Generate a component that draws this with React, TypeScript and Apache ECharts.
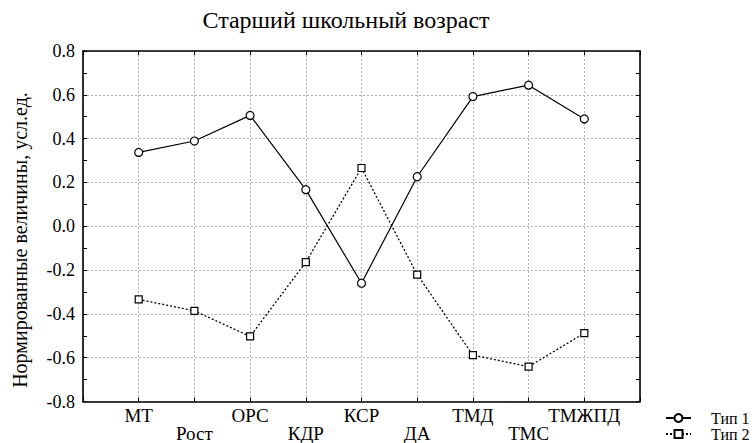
import React, { useEffect, useRef } from 'react';
import * as echarts from 'echarts';

const titleText = 'Старший школьный возраст';
const yAxisName = 'Нормированные величины, усл.ед.';
const categories = ['МТ', 'Рост', 'ОРС', 'КДР', 'КСР', 'ДА', 'ТМД', 'ТМС', 'ТМЖПД'];
const seriesNames = ['Тип 1', 'Тип 2'];
const type1 = [0.337, 0.389, 0.506, 0.167, -0.26, 0.226, 0.592, 0.644, 0.49];
const type2 = [-0.334, -0.386, -0.503, -0.164, 0.266, -0.221, -0.588, -0.641, -0.488];
const yMin = -0.8;
const yMax = 0.8;
const yStep = 0.2;

const FONT = '"Liberation Serif", "Times New Roman", serif';

export default function App() {
  const ref = useRef<HTMLDivElement>(null);
  useEffect(() => {
    if (!ref.current) return;
    const chart = echarts.init(ref.current, null, { renderer: 'svg' });
    const xLabel = (v: number) => {
      const i = Math.round(v) - 1;
      if (i < 0 || i >= categories.length) return '';
      return i % 2 === 0 ? categories[i] : '\n' + categories[i];
    };
    const axisLine = { show: true, onZero: false, lineStyle: { color: '#000', width: 1.6 } };
    const tick = { show: true, inside: true, length: 4, lineStyle: { color: '#000', width: 1 } };
    const minor = { show: true, splitNumber: 2, length: 4, lineStyle: { color: '#000', width: 1 } };
    const grid = { type: [2, 2], color: '#b0b0b0', width: 1 };
    const legendBase = {
      orient: 'vertical',
      left: 665,
      padding: 0,
      itemWidth: 25,
      itemHeight: 10,
      textStyle: {
        fontFamily: FONT,
        fontSize: 16,
        lineHeight: 16,
        color: '#000',
        padding: [0, 0, 0, 15],
      },
    };
    chart.setOption({
      animation: false,
      backgroundColor: '#fff',
      grid: { left: 83, right: 114, top: 51, bottom: 39, containLabel: false },
      graphic: [
        {
          type: 'text',
          x: 346,
          y: 20,
          style: {
            text: titleText,
            font: `24px ${FONT}`,
            fill: '#000',
            textAlign: 'center',
            textVerticalAlign: 'middle',
          },
        },
        {
          type: 'text',
          x: 20,
          y: 240,
          rotation: Math.PI / 2,
          style: {
            text: yAxisName,
            font: `20px ${FONT}`,
            fill: '#000',
            textAlign: 'center',
            textVerticalAlign: 'middle',
          },
        },
      ],
      legend: [
        { ...legendBase, data: [seriesNames[0]], top: 410 },
        { ...legendBase, data: [seriesNames[1]], top: 426 },
      ],
      xAxis: [
        {
          type: 'value',
          min: 0,
          max: 10,
          interval: 1,
          position: 'bottom',
          axisLine,
          axisTick: tick,
          splitLine: { show: true, lineStyle: grid },
          axisLabel: {
            formatter: xLabel,
            fontFamily: FONT,
            fontSize: 19,
            color: '#000',
            margin: 5,
            lineHeight: 18,
          },
        },
        {
          type: 'value',
          min: 0,
          max: 10,
          interval: 1,
          position: 'top',
          axisLine,
          axisTick: tick,
          splitLine: { show: false },
          axisLabel: { show: false },
        },
      ],
      yAxis: [
        {
          type: 'value',
          min: yMin,
          max: yMax,
          interval: yStep,
          position: 'left',
          axisLine,
          axisTick: tick,
          minorTick: minor,
          splitLine: { show: true, lineStyle: grid },
          axisLabel: {
            formatter: (v: number) => v.toFixed(1),
            fontFamily: FONT,
            fontSize: 18,
            color: '#000',
            margin: 8,
          },
        },
        {
          type: 'value',
          min: yMin,
          max: yMax,
          interval: yStep,
          position: 'right',
          axisLine,
          axisTick: tick,
          minorTick: minor,
          splitLine: { show: false },
          axisLabel: { show: false },
        },
      ],
      series: [
        {
          name: seriesNames[0],
          type: 'line',
          xAxisIndex: 0,
          yAxisIndex: 0,
          data: type1.map((v, i) => [i + 1, v]),
          symbol: 'circle',
          symbolSize: 8,
          itemStyle: { color: '#fff', borderColor: '#000', borderWidth: 1.2 },
          lineStyle: { color: '#000', width: 1.2, type: 'solid' },
          z: 3,
        },
        {
          name: seriesNames[1],
          type: 'line',
          xAxisIndex: 0,
          yAxisIndex: 0,
          data: type2.map((v, i) => [i + 1, v]),
          symbol: 'rect',
          symbolSize: 7,
          itemStyle: { color: '#fff', borderColor: '#000', borderWidth: 1.2 },
          lineStyle: { color: '#000', width: 1.3, type: [2, 2] },
          z: 2,
        },
      ],
    });
    return () => chart.dispose();
  }, []);
  return (
    <div
      ref={ref}
      style={{ position: 'fixed', left: 0, top: 0, width: 754, height: 443 }}
    />
  );
}
